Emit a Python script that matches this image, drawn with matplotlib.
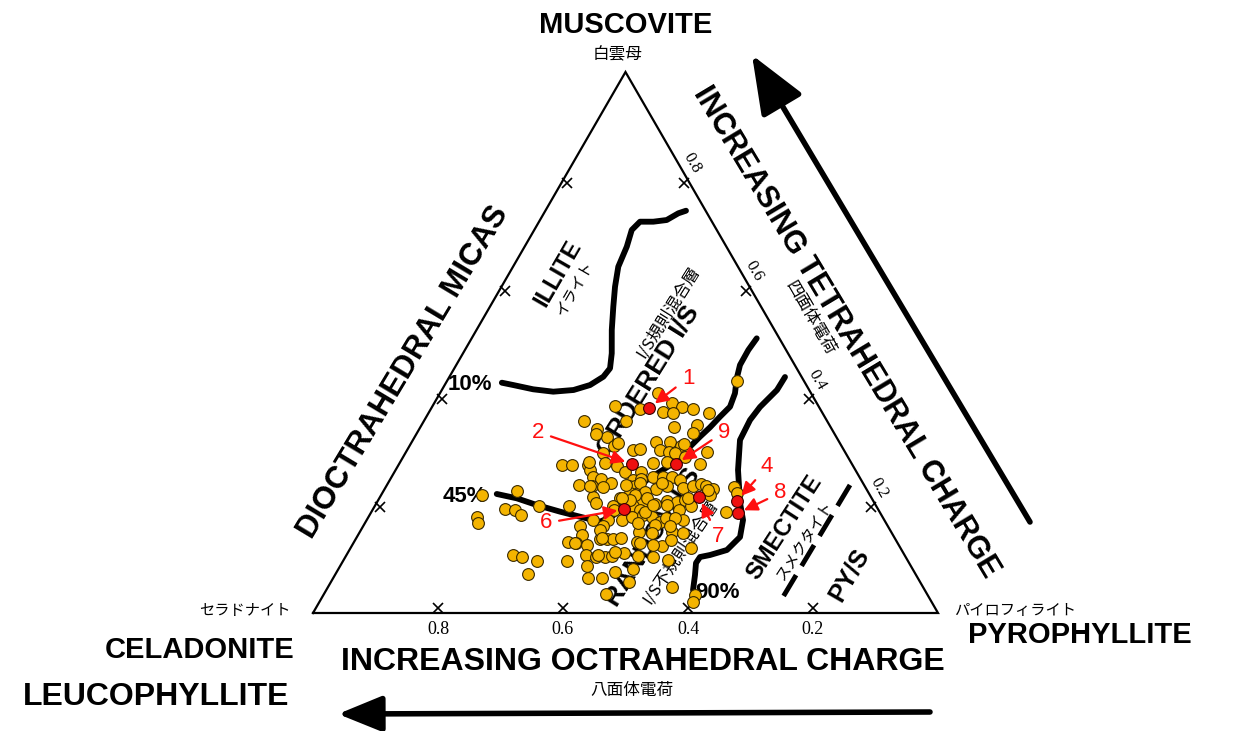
import matplotlib.pyplot as plt
import numpy as np

plt.rcParams['font.family'] = ['Liberation Sans', 'Noto Sans CJK JP', 'DejaVu Sans']

# I/S clay analyses: octahedral charge, tetrahedral charge
oct_charge = [0.108, 0.244, 0.231, 0.289, 0.219, 0.204, 0.254, 0.240, 0.181, 0.326,
              0.390, 0.322, 0.250, 0.375, 0.211, 0.226, 0.367, 0.292, 0.271, 0.257,
              0.364, 0.337, 0.325, 0.294, 0.281, 0.252, 0.220, 0.389, 0.464, 0.449,
              0.423, 0.394, 0.378, 0.317, 0.243, 0.425, 0.370, 0.344, 0.426, 0.415,
              0.404, 0.456, 0.437, 0.420, 0.365, 0.351, 0.330, 0.314, 0.300, 0.290,
              0.377, 0.368, 0.336, 0.317, 0.292, 0.275, 0.260, 0.254, 0.245, 0.211,
              0.620, 0.560, 0.444, 0.445, 0.403, 0.382, 0.369, 0.360, 0.383, 0.371,
              0.330, 0.315, 0.300, 0.256, 0.211, 0.597, 0.582, 0.576, 0.540, 0.492,
              0.422, 0.389, 0.382, 0.352, 0.334, 0.320, 0.296, 0.246, 0.648, 0.653,
              0.466, 0.442, 0.420, 0.401, 0.381, 0.369, 0.360, 0.322, 0.493, 0.456,
              0.497, 0.404, 0.351, 0.334, 0.527, 0.514, 0.499, 0.473, 0.462, 0.452,
              0.438, 0.416, 0.380, 0.334, 0.626, 0.613, 0.594, 0.545, 0.509, 0.495,
              0.481, 0.469, 0.448, 0.427, 0.404, 0.383, 0.620, 0.519, 0.447, 0.528,
              0.505, 0.402, 0.513, 0.372, 0.381, 0.465, 0.381, 0.355, 0.251, 0.273,
              0.294, 0.260, 0.357, 0.357, 0.376, 0.360, 0.322, 0.254, 0.294, 0.375,
              0.397, 0.372, 0.347, 0.333, 0.349, 0.464, 0.384, 0.393, 0.359, 0.460,
              0.479, 0.418, 0.440, 0.380, 0.388, 0.400, 0.356, 0.424, 0.516, 0.469,
              0.412, 0.490]
tet_charge = [0.428, 0.407, 0.388, 0.377, 0.380, 0.377, 0.372, 0.369, 0.370, 0.383,
              0.354, 0.354, 0.344, 0.341, 0.348, 0.333, 0.326, 0.317, 0.317, 0.309,
              0.309, 0.301, 0.304, 0.301, 0.298, 0.295, 0.298, 0.295, 0.274, 0.274,
              0.274, 0.277, 0.272, 0.277, 0.275, 0.264, 0.261, 0.261, 0.252, 0.247,
              0.240, 0.237, 0.234, 0.232, 0.246, 0.247, 0.252, 0.251, 0.252, 0.246,
              0.235, 0.234, 0.229, 0.234, 0.231, 0.234, 0.238, 0.234, 0.229, 0.232,
              0.219, 0.226, 0.215, 0.204, 0.212, 0.222, 0.221, 0.221, 0.209, 0.206,
              0.207, 0.206, 0.209, 0.218, 0.222, 0.192, 0.190, 0.181, 0.198, 0.197,
              0.197, 0.197, 0.190, 0.202, 0.200, 0.190, 0.197, 0.186, 0.178, 0.166,
              0.172, 0.171, 0.172, 0.178, 0.181, 0.178, 0.169, 0.172, 0.160, 0.160,
              0.144, 0.150, 0.150, 0.147, 0.131, 0.129, 0.126, 0.136, 0.136, 0.136,
              0.138, 0.132, 0.124, 0.121, 0.107, 0.104, 0.096, 0.096, 0.107, 0.103,
              0.103, 0.105, 0.110, 0.106, 0.104, 0.098, 0.073, 0.086, 0.081, 0.064,
              0.064, 0.048, 0.036, 0.033, 0.021, 0.058, 0.331, 0.314, 0.312, 0.295,
              0.280, 0.289, 0.240, 0.224, 0.218, 0.212, 0.240, 0.227, 0.212, 0.187,
              0.166, 0.163, 0.175, 0.175, 0.160, 0.153, 0.147, 0.126, 0.135, 0.113,
              0.076, 0.280, 0.234, 0.237, 0.209, 0.212, 0.200, 0.190, 0.129, 0.138,
              0.129, 0.107]

# numbered samples
red_labels = ['1', '2', '9', '4', '8', '7', '6']
red_oct = [0.272, 0.352, 0.2815, 0.2186, 0.2284, 0.275, 0.406]
red_tet = [0.3795, 0.2754, 0.2754, 0.207, 0.1843, 0.215, 0.1917]

# field boundaries (octahedral, tetrahedral)
illite_oct = [0.485, 0.469, 0.441, 0.411, 0.377, 0.346, 0.317, 0.2986, 0.282, 0.2604,
              0.2364, 0.2152, 0.1915, 0.1594, 0.136, 0.1151, 0.0938, 0.0709, 0.0461, 0.0314]
illite_tet = [0.4257, 0.4214, 0.4135, 0.4091, 0.4122, 0.4214, 0.4368, 0.4523, 0.480, 0.5231,
              0.5662, 0.6031, 0.6401, 0.6771, 0.708, 0.7233, 0.7233, 0.7264, 0.7388, 0.7436]
ordered_oct = [0.0362, 0.0604, 0.0876, 0.1051, 0.1218, 0.1421, 0.1674, 0.1932, 0.2178, 0.2514,
               0.2852, 0.3142, 0.3431, 0.3769, 0.4055, 0.433, 0.4564, 0.4838, 0.511, 0.5422,
               0.568, 0.596]
ordered_tet = [0.5077, 0.4861, 0.4584, 0.4338, 0.4061, 0.3813, 0.3628, 0.3432, 0.3259, 0.3013,
               0.2767, 0.2612, 0.2458, 0.2212, 0.1965, 0.178, 0.1688, 0.178, 0.1873, 0.1996,
               0.212, 0.220]
random_oct = [0.0267, 0.0515, 0.0944, 0.1224, 0.1569, 0.1878, 0.2151, 0.226, 0.2465, 0.2794,
              0.3112, 0.329, 0.341, 0.3537, 0.3707]
random_tet = [0.4362, 0.4122, 0.3808, 0.3567, 0.3198, 0.2643, 0.2033, 0.1719, 0.1405, 0.1165,
              0.1072, 0.1035, 0.0924, 0.0702, 0.0425]
pys_oct = [0.0225, 0.2332]
pys_tet = [0.2366, 0.0296]

tick_values = [0.2, 0.4, 0.6, 0.8]

# pyrophyllite corner and triangle size in pixels
PYRO = (938.0, 613.0)
SIDE = 625.0
HEIGHT = 541.0


def tern(o, t):
    o = np.asarray(o, float)
    t = np.asarray(t, float)
    return PYRO[0] - SIDE * (o + 0.5 * t), PYRO[1] - HEIGHT * t


fig = plt.figure(figsize=(12.58, 7.31), dpi=100)
ax = fig.add_axes([0, 0, 1, 1])
ax.set_xlim(0, 1258)
ax.set_ylim(731, 0)
ax.axis('off')

# triangle
tx, ty = tern([1, 0, 0, 1], [0, 0, 1, 0])
ax.plot(tx, ty, color='black', lw=1.6, solid_joinstyle='miter', zorder=2)

# tick crosses, nudged to the inside of each edge
tv = np.array(tick_values)
for o, t, (nx, ny) in [(tv, 0 * tv, (0, -5)),
                       (0 * tv, tv, (-4.3, 2.5)),
                       (1 - tv, tv, (4.3, 2.5))]:
    x, y = tern(o, t)
    ax.plot(x + nx, y + ny, 'x', color='black', ms=7, mew=1.2, zorder=2)

serif = 'Liberation Serif'
for v in tick_values:
    x, y = tern(v, 0)
    ax.text(x, y + 16, f'{v:.1f}', ha='center', va='center', fontsize=13, family=serif)
    x, y = tern(0, v)
    ax.text(x + 4, y - 17, f'{v:.1f}', ha='center', va='center', fontsize=12,
            family=serif, rotation=-60)

# boundaries
lw_b = 4.2
ax.plot(*tern(illite_oct, illite_tet), color='black', lw=lw_b, solid_capstyle='round', zorder=3)
ax.plot(*tern(ordered_oct, ordered_tet), color='black', lw=lw_b, solid_capstyle='round', zorder=3)
ax.plot(*tern(random_oct, random_tet), color='black', lw=lw_b, solid_capstyle='round', zorder=3)
ax.plot(*tern(pys_oct, pys_tet), color='black', lw=3.5, ls=(0, (5, 2.2)), zorder=3)

# field labels
bold = dict(fontweight='bold', ha='center', va='center', rotation_mode='anchor', zorder=4)
jp = dict(family=['Noto Sans CJK JP'], ha='center', va='center', rotation_mode='anchor', zorder=4)
ax.text(558, 273, 'ILLITE', fontsize=17, rotation=60, **bold)
ax.text(575, 288, 'イライト', fontsize=11, rotation=60, **jp)
ax.text(648, 380, 'ORDERED I/S', fontsize=19, rotation=58, **bold)
ax.text(668, 312, 'I/S規則混合層', fontsize=12, rotation=58, **jp)
ax.text(653, 537, 'RANDOM I/S', fontsize=19, rotation=58, **bold)
ax.text(680, 552, 'I/S不規則混合層', fontsize=12, rotation=56, **jp)
ax.text(784, 527, 'SMECTITE', fontsize=17, rotation=57, **bold)
ax.text(805, 541, 'スメクタイト', fontsize=11, rotation=57, **jp)
ax.text(849, 575, 'PY/S', fontsize=18, rotation=60, **bold)
ax.text(470, 385, '10%', fontsize=16, **bold)
ax.text(465, 497, '45%', fontsize=16, **bold)
ax.text(717, 592, '90%', fontsize=16, **bold)

# data points
px, py = tern(oct_charge, tet_charge)
ax.scatter(px, py, s=72, color='#F4B400', edgecolors='#3a2a00', linewidths=0.8, zorder=5)
rx, ry = tern(red_oct, red_tet)
ax.scatter(rx, ry, s=72, color='#EE1010', edgecolors='#3a0000', linewidths=0.8, zorder=6)

label_pos = {'1': (688, 378), '2': (538, 432), '9': (724, 432), '4': (767, 467),
             '8': (780, 493), '7': (718, 537), '6': (546, 523)}
for lab, x, y in zip(red_labels, rx, ry):
    ax.annotate(lab, xy=(x, y), xytext=label_pos[lab], color='#FF1010', fontsize=16,
                ha='center', va='center', zorder=7,
                arrowprops=dict(arrowstyle='-|>,head_length=0.5,head_width=0.25',
                                color='#FF1010', lw=1.6, shrinkA=3, shrinkB=5))

# corner names
big = dict(fontweight='bold', fontsize=21, ha='center', va='center')
ax.text(626, 25, 'MUSCOVITE', **big)
ax.text(618, 55, '白雲母', fontsize=12, family=['Noto Sans CJK JP'], ha='center', va='center')
ax.text(200, 650, 'CELADONITE', **big)
ax.text(156, 697, 'LEUCOPHYLLITE', fontweight='bold', fontsize=23, ha='center', va='center')
ax.text(1080, 635, 'PYROPHYLLITE', **big)
ax.text(245, 610, 'セラドナイト', fontsize=11, family=['Noto Sans CJK JP'], ha='center', va='center')
ax.text(1015, 610, 'パイロフィライト', fontsize=11, family=['Noto Sans CJK JP'], ha='center', va='center')

# axis captions and arrows
ax.text(404, 372, 'DIOCTRAHEDRAL MICAS', fontsize=22.5, rotation=59, rotation_mode='anchor',
        fontweight='bold', ha='center', va='center')
ax.text(846, 332, 'INCREASING TETRAHEDRAL CHARGE', fontsize=22, rotation=-59,
        rotation_mode='anchor', fontweight='bold', ha='center', va='center')
ax.text(810, 318, '四面体電荷', fontsize=12, rotation=-60, rotation_mode='anchor',
        family=['Noto Sans CJK JP'], ha='center', va='center')
ax.text(643, 662, 'INCREASING OCTRAHEDRAL CHARGE', fontsize=23, fontweight='bold',
        ha='center', va='center')
ax.text(632, 690, '八面体電荷', fontsize=12, family=['Noto Sans CJK JP'], ha='center', va='center')

ax.annotate('', xy=(752, 55), xytext=(1030, 522),
            arrowprops=dict(arrowstyle='-|>,head_length=1.8,head_width=0.72',
                            color='black', lw=4, mutation_scale=20, shrinkA=0, shrinkB=0))
ax.annotate('', xy=(338, 714), xytext=(930, 712),
            arrowprops=dict(arrowstyle='-|>,head_length=1.35,head_width=0.55',
                            color='black', lw=4, mutation_scale=20, shrinkA=0, shrinkB=0))

fig.savefig('out.png', dpi=100)
